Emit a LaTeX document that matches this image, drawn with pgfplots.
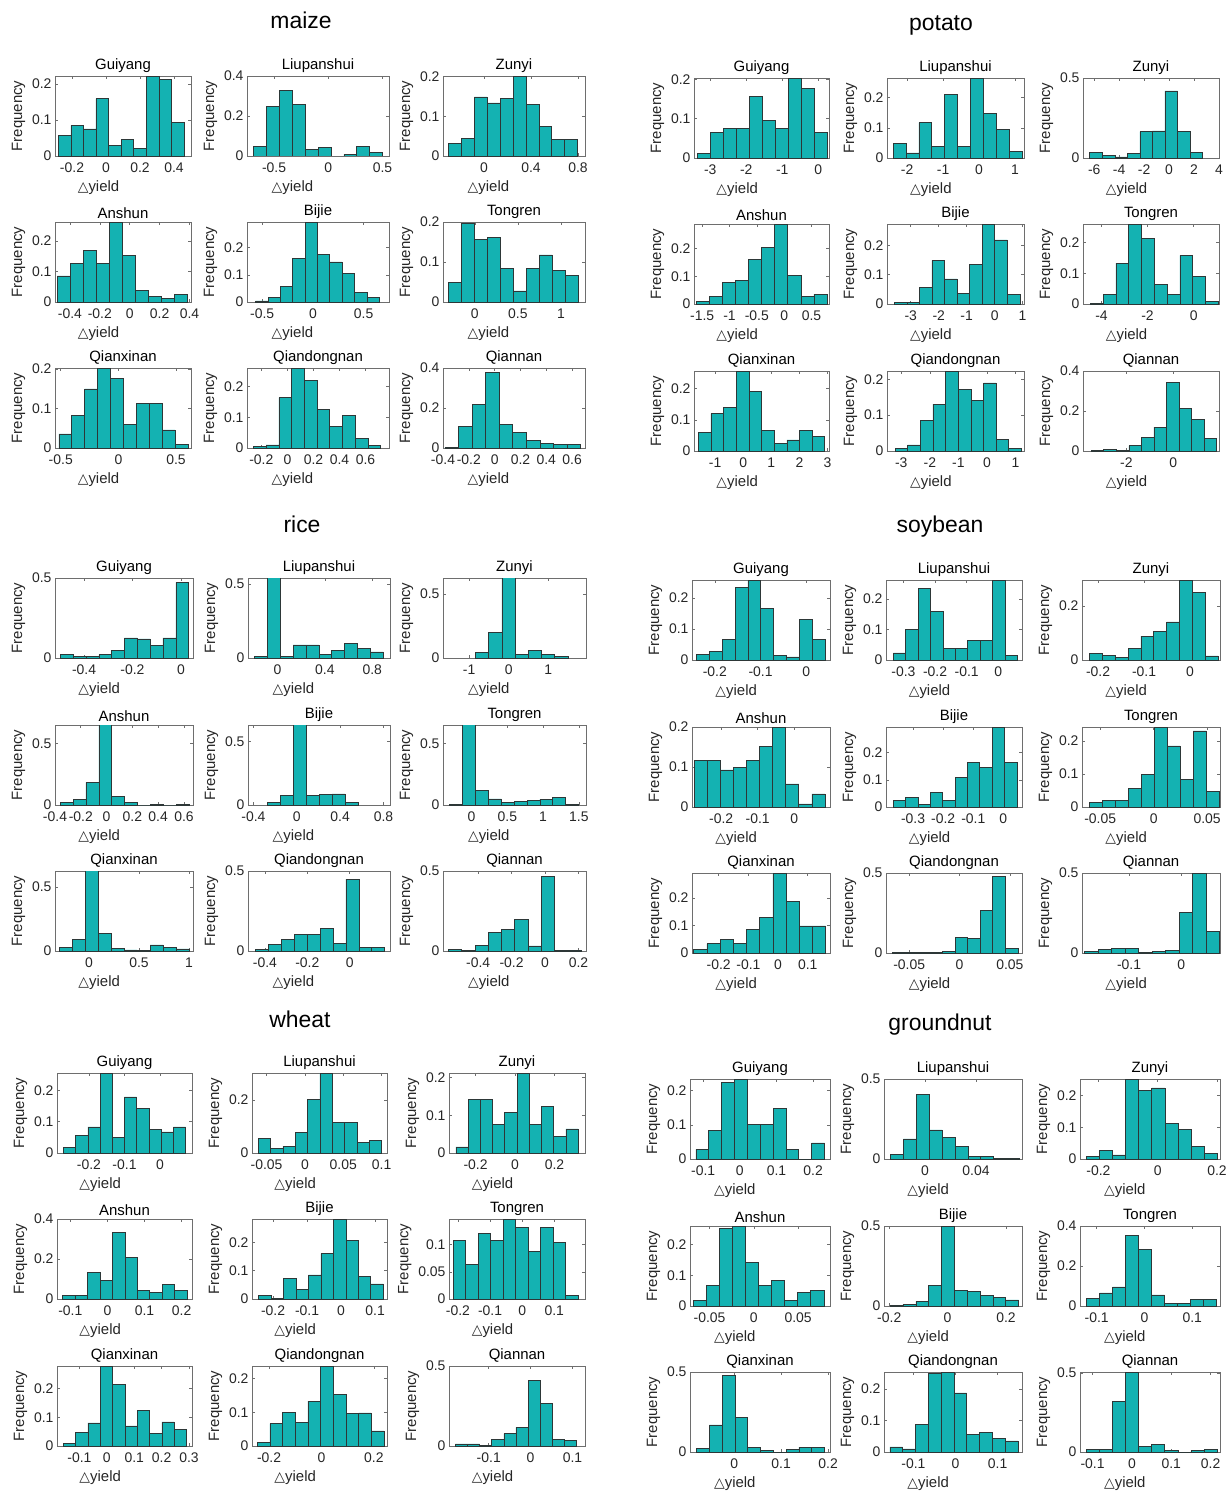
\documentclass[border=0pt]{standalone}
\usepackage{fontspec}
\setmainfont{Liberation Sans}
\newfontfamily\dejavu{DejaVu Sans}
\usepackage{pgfplots}
\pgfplotsset{compat=1.18}
\definecolor{barfill}{RGB}{20,178,178}
\definecolor{baredge}{RGB}{45,55,55}
\definecolor{boxgray}{RGB}{110,110,110}
\newcommand\fs[1]{\fontsize{#1}{#1}\selectfont}

\pgfplotsset{
  hist/.style={
    scale only axis, anchor=north west, height=80bp,
    enlargelimits=false, ymin=0, clip=true,
    axis line style={draw=boxgray, line width=0.8bp},
    tick style={draw=boxgray, line width=0.6bp},
    tick align=inside, major tick length=3bp,
    scaled ticks=false,
    /pgf/number format/assume math mode=true,
    /pgf/number format/fixed,
    ticklabel style={font=\fs{14}, text=black!85},
    xticklabel style={yshift=-3bp},
    title style={at={(0.5,1)}, anchor=south, inner sep=1.5bp, yshift=-4bp, font=\fs{15}},
    ylabel={Frequency},
    ylabel style={font=\fs{15}, text=black!85},
    xlabel={{\dejavu\fs{14}△}yield},
    xlabel style={at={(axis description cs:0.32,0)}, anchor=north, yshift=-21bp, font=\fs{15}, text=black!85},
  },
  bars/.style={ybar interval, fill=barfill, draw=baredge, line width=0.6bp},
}

% #1 left, #2 top, #3 width, #4 title, #5 options, #6 first edge, #7 bin width, #8 heights
\newcommand{\hist}[8]{%
  \begin{axis}[hist, at={(#1bp,-#2bp)}, width=#3bp, title={#4}, #5]
    \addplot[bars] table[x expr={#6+\coordindex*#7}, y index=0, header=false, row sep=\\] {#8};
  \end{axis}}

\begin{document}
\begin{tikzpicture}
\useasboundingbox (0,0) rectangle (1232bp,-1492bp);

% ---------------- maize ----------------
\node[font=\fs{23}] at (301bp,-20bp) {maize};
\hist{55}{76}{136}{Guiyang}{xmin=-0.3,xmax=0.5,ymax=0.222,xtick={-0.2,0,0.2,0.4},ytick={0,0.1,0.2}}{-0.281}{0.074}
  {0.057\\0.085\\0.075\\0.159\\0.030\\0.047\\0.020\\0.222\\0.213\\0.094\\0\\}
\hist{247}{76}{142}{Liupanshui}{xmin=-0.75,xmax=0.56,ymax=0.4,xtick={-0.5,0,0.5},ytick={0,0.2,0.4}}{-0.69}{0.119}
  {0.047\\0.247\\0.329\\0.259\\0.034\\0.043\\0\\0.008\\0.049\\0.019\\0\\}
\hist{443}{76}{142}{Zunyi}{xmin=-0.35,xmax=0.86,ymax=0.202,xtick={0,0.4,0.8},ytick={0,0.1,0.2}}{-0.303}{0.11}
  {0.032\\0.045\\0.149\\0.134\\0.146\\0.202\\0.130\\0.074\\0.042\\0.042\\0\\}
\hist{55}{222}{136}{Anshun}{xmin=-0.5,xmax=0.41,ymax=0.263,xtick={-0.4,-0.2,0,0.2,0.4},ytick={0,0.1,0.2}}{-0.485}{0.087}
  {0.086\\0.128\\0.170\\0.128\\0.263\\0.154\\0.037\\0.018\\0.011\\0.026\\0\\}
\hist{247}{222}{142}{Bijie}{xmin=-0.65,xmax=0.75,ymax=0.295,xtick={-0.5,0,0.5},ytick={0,0.1,0.2}}{-0.564}{0.1217}
  {0.004\\0.016\\0.057\\0.160\\0.295\\0.176\\0.148\\0.105\\0.034\\0.016\\0\\}
\hist{443}{222}{142}{Tongren}{xmin=-0.37,xmax=1.28,ymax=0.2,xtick={0,0.5,1},ytick={0,0.1,0.2}}{-0.307}{0.1507}
  {0.049\\0.197\\0.157\\0.161\\0.084\\0.028\\0.084\\0.118\\0.080\\0.066\\0\\}
\hist{55}{368}{136}{Qianxinan}{xmin=-0.55,xmax=0.63,ymax=0.203,xtick={-0.5,0,0.5},ytick={0,0.1,0.2}}{-0.517}{0.112}
  {0.036\\0.082\\0.150\\0.203\\0.177\\0.060\\0.114\\0.114\\0.046\\0.009\\0\\}
\hist{247}{368}{142}{Qiandongnan}{xmin=-0.31,xmax=0.78,ymax=0.26,xtick={-0.2,0,0.2,0.4,0.6},ytick={0,0.1,0.2}}{-0.261}{0.0977}
  {0.004\\0.010\\0.164\\0.260\\0.219\\0.126\\0.070\\0.105\\0.032\\0.009\\0\\}
\hist{443}{368}{142}{Qiannan}{xmin=-0.4,xmax=0.7,ymax=0.4,xtick={-0.4,-0.2,0,0.2,0.4,0.6},ytick={0,0.2,0.4}}{-0.385}{0.105}
  {0.003\\0.108\\0.220\\0.380\\0.117\\0.080\\0.037\\0.025\\0.017\\0.017\\0\\}

% ---------------- potato ----------------
\node[font=\fs{23}] at (941bp,-25bp) {potato};
\hist{694}{78}{135}{Guiyang}{xmin=-3.45,xmax=0.3,ymax=0.204,xtick={-3,-2,-1,0},ytick={0,0.1,0.2}}{-3.36}{0.361}
  {0.012\\0.066\\0.076\\0.076\\0.158\\0.095\\0.076\\0.204\\0.177\\0.066\\0\\}
\hist{887}{78}{137}{Liupanshui}{xmin=-2.56,xmax=1.25,ymax=0.265,xtick={-2,-1,0,1},ytick={0,0.1,0.2}}{-2.39}{0.358}
  {0.048\\0.017\\0.117\\0.039\\0.210\\0.039\\0.265\\0.149\\0.094\\0.023\\0\\}
\hist{1083}{78}{136}{Zunyi}{xmin=-6.9,xmax=4,ymax=0.5,xtick={-6,-4,-2,0,2,4},ytick={0,0.5}}{-6.36}{1.005}
  {0.033\\0.017\\0.007\\0.028\\0.165\\0.170\\0.420\\0.165\\0.035\\0\\}
\hist{694}{224}{135}{Anshun}{xmin=-1.65,xmax=0.82,ymax=0.288,xtick={-1.5,-1,-0.5,0,0.5},ytick={0,0.1,0.2}}{-1.6}{0.238}
  {0.008\\0.027\\0.077\\0.086\\0.162\\0.205\\0.288\\0.104\\0.027\\0.036\\0\\}
\hist{887}{224}{137}{Bijie}{xmin=-3.85,xmax=1.05,ymax=0.273,xtick={-3,-2,-1,0,1},ytick={0,0.1,0.2}}{-3.59}{0.449}
  {0.005\\0.005\\0.057\\0.149\\0.086\\0.036\\0.136\\0.273\\0.219\\0.034\\0\\}
\hist{1083}{224}{136}{Tongren}{xmin=-4.8,xmax=1.1,ymax=0.26,xtick={-4,-2,0},ytick={0,0.1,0.2}}{-4.48}{0.555}
  {0.003\\0.030\\0.133\\0.260\\0.214\\0.063\\0.032\\0.158\\0.090\\0.008\\0\\}
\hist{694}{371}{135}{Qianxinan}{xmin=-1.75,xmax=3.05,ymax=0.257,xtick={-1,0,1,2,3},ytick={0,0.1,0.2}}{-1.6}{0.45}
  {0.060\\0.120\\0.140\\0.257\\0.192\\0.066\\0.025\\0.036\\0.065\\0.047\\0\\}
\hist{887}{371}{137}{Qiandongnan}{xmin=-3.5,xmax=1.3,ymax=0.223,xtick={-3,-2,-1,0,1},ytick={0,0.1,0.2}}{-3.22}{0.443}
  {0.008\\0.017\\0.085\\0.131\\0.223\\0.172\\0.142\\0.190\\0.033\\0.008\\0\\}
\hist{1083}{371}{136}{Qiannan}{xmin=-3.85,xmax=1.95,ymax=0.4,xtick={-2,0,2},ytick={0,0.2,0.4}}{-3.5}{0.535}
  {0.003\\0.008\\0.005\\0.027\\0.068\\0.120\\0.344\\0.214\\0.158\\0.064\\0\\}

% ---------------- rice ----------------
\node[font=\fs{23}] at (302bp,-524bp) {rice};
\hist{55}{578}{138}{Guiyang}{xmin=-0.52,xmax=0.05,ymax=0.5,xtick={-0.4,-0.2,0},ytick={0,0.5}}{-0.498}{0.053}
  {0.021\\0.008\\0.008\\0.021\\0.050\\0.126\\0.120\\0.078\\0.126\\0.473\\0\\}
\hist{248}{578}{142}{Liupanshui}{xmin=-0.25,xmax=0.95,ymax=0.54,xtick={0,0.4,0.8},ytick={0,0.5}}{-0.196}{0.109}
  {0.011\\0.600\\0.011\\0.089\\0.089\\0.027\\0.050\\0.098\\0.066\\0.041\\0\\}
\hist{443}{578}{143}{Zunyi}{xmin=-1.66,xmax=1.95,ymax=0.625,xtick={-1,0,1},ytick={0,0.5}}{-0.84}{0.333}
  {0.044\\0.203\\0.700\\0.026\\0.057\\0.029\\0.010\\0\\}
\hist{55}{725}{138}{Anshun}{xmin=-0.4,xmax=0.67,ymax=0.65,xtick={-0.4,-0.2,0,0.2,0.4,0.6},ytick={0,0.5}}{-0.36}{0.1}
  {0.019\\0.046\\0.184\\0.700\\0.068\\0.022\\0\\0.005\\0\\0.005\\0\\}
\hist{248}{725}{142}{Bijie}{xmin=-0.45,xmax=0.86,ymax=0.63,xtick={-0.4,0,0.4,0.8},ytick={0,0.5}}{-0.274}{0.12}
  {0.021\\0.076\\0.700\\0.074\\0.082\\0.087\\0.021\\0\\}
\hist{443}{725}{143}{Tongren}{xmin=-0.4,xmax=1.6,ymax=0.65,xtick={0,0.5,1,1.5},ytick={0,0.5}}{-0.305}{0.18}
  {0.005\\0.700\\0.120\\0.050\\0.021\\0.032\\0.037\\0.048\\0.061\\0.005\\0\\}
\hist{55}{871}{138}{Qianxinan}{xmin=-0.34,xmax=1.04,ymax=0.625,xtick={0,0.5,1},ytick={0,0.5}}{-0.3}{0.13}
  {0.026\\0.090\\0.700\\0.135\\0.021\\0.008\\0.005\\0.047\\0.026\\0.016\\0\\}
\hist{248}{871}{142}{Qiandongnan}{xmin=-0.48,xmax=0.19,ymax=0.5,xtick={-0.4,-0.2,0},ytick={0,0.5}}{-0.445}{0.061}
  {0.008\\0.042\\0.074\\0.105\\0.105\\0.143\\0.049\\0.449\\0.025\\0.021\\0\\}
\hist{443}{871}{143}{Qiannan}{xmin=-0.61,xmax=0.245,ymax=0.5,xtick={-0.4,-0.2,0,0.2},ytick={0,0.5}}{-0.577}{0.0792}
  {0.008\\0.004\\0.036\\0.116\\0.137\\0.196\\0.032\\0.464\\0.004\\0.004\\0\\}

% ---------------- soybean ----------------
\node[font=\fs{23}] at (940bp,-527bp) {soybean};
\hist{692}{580}{138}{Guiyang}{xmin=-0.25,xmax=0.052,ymax=0.258,xtick={-0.2,-0.1,0},ytick={0,0.1,0.2}}{-0.24}{0.0281}
  {0.019\\0.027\\0.066\\0.233\\0.258\\0.167\\0.016\\0.010\\0.131\\0.066\\0\\}
\hist{886}{580}{136}{Liupanshui}{xmin=-0.355,xmax=0.075,ymax=0.262,xtick={-0.3,-0.2,-0.1,0},ytick={0,0.1,0.2}}{-0.332}{0.0392}
  {0.023\\0.100\\0.235\\0.159\\0.039\\0.039\\0.063\\0.063\\0.262\\0.015\\0\\}
\hist{1082}{580}{138}{Zunyi}{xmin=-0.235,xmax=0.065,ymax=0.296,xtick={-0.2,-0.1,0},ytick={0,0.2}}{-0.219}{0.028}
  {0.025\\0.016\\0.011\\0.042\\0.088\\0.107\\0.141\\0.296\\0.249\\0.015\\0\\}
\hist{692}{727}{138}{Anshun}{xmin=-0.28,xmax=0.098,ymax=0.2,xtick={-0.2,-0.1,0},ytick={0,0.1,0.2}}{-0.274}{0.0358}
  {0.117\\0.117\\0.093\\0.100\\0.117\\0.152\\0.200\\0.058\\0.008\\0.033\\0\\}
\hist{886}{727}{136}{Bijie}{xmin=-0.39,xmax=0.062,ymax=0.294,xtick={-0.3,-0.2,-0.1,0},ytick={0,0.1,0.2}}{-0.366}{0.0411}
  {0.023\\0.036\\0.009\\0.053\\0.025\\0.108\\0.163\\0.145\\0.294\\0.163\\0\\}
\hist{1082}{727}{138}{Tongren}{xmin=-0.067,xmax=0.062,ymax=0.242,xtick={-0.05,0,0.05},ytick={0,0.1,0.2}}{-0.06}{0.0121}
  {0.013\\0.020\\0.020\\0.056\\0.099\\0.242\\0.185\\0.083\\0.230\\0.047\\0\\}
\hist{692}{873}{138}{Qianxinan}{xmin=-0.29,xmax=0.175,ymax=0.29,xtick={-0.2,-0.1,0,0.1},ytick={0,0.1,0.2}}{-0.284}{0.0444}
  {0.012\\0.034\\0.048\\0.034\\0.087\\0.129\\0.290\\0.186\\0.098\\0.098\\0\\}
\hist{886}{873}{136}{Qiandongnan}{xmin=-0.073,xmax=0.062,ymax=0.5,xtick={-0.05,0,0.05},ytick={0,0.5}}{-0.067}{0.0125}
  {0.002\\0.004\\0.006\\0.006\\0.012\\0.098\\0.090\\0.267\\0.480\\0.029\\0\\}
\hist{1082}{873}{138}{Qiannan}{xmin=-0.19,xmax=0.074,ymax=0.5,xtick={-0.1,0},ytick={0,0.5}}{-0.185}{0.0258}
  {0.010\\0.025\\0.031\\0.031\\0.006\\0.008\\0.015\\0.254\\0.500\\0.135\\0\\}

% ---------------- wheat ----------------
\node[font=\fs{23}] at (300bp,-1019bp) {wheat};
\hist{57}{1073}{135}{Guiyang}{xmin=-0.29,xmax=0.09,ymax=0.255,xtick={-0.2,-0.1,0},ytick={0,0.1,0.2}}{-0.272}{0.0344}
  {0.019\\0.056\\0.083\\0.255\\0.049\\0.179\\0.141\\0.076\\0.067\\0.083\\0\\}
\hist{252}{1073}{135}{Liupanshui}{xmin=-0.069,xmax=0.107,ymax=0.302,xtick={-0.05,0,0.05,0.1},ytick={0,0.2}}{-0.061}{0.0161}
  {0.056\\0.018\\0.025\\0.078\\0.203\\0.302\\0.115\\0.115\\0.040\\0.048\\0\\}
\hist{449}{1073}{136}{Zunyi}{xmin=-0.335,xmax=0.355,ymax=0.212,xtick={-0.2,0,0.2},ytick={0,0.1,0.2}}{-0.3}{0.062}
  {0.016\\0.142\\0.142\\0.075\\0.107\\0.212\\0.075\\0.123\\0.044\\0.064\\0\\}
\hist{57}{1219}{135}{Anshun}{xmin=-0.136,xmax=0.228,ymax=0.4,xtick={-0.1,0,0.1,0.2},ytick={0,0.2,0.4}}{-0.121}{0.0336}
  {0.017\\0.017\\0.135\\0.092\\0.335\\0.210\\0.042\\0.033\\0.075\\0.042\\0\\}
\hist{252}{1219}{135}{Bijie}{xmin=-0.262,xmax=0.135,ymax=0.282,xtick={-0.2,-0.1,0,0.1},ytick={0,0.1,0.2}}{-0.243}{0.0367}
  {0.014\\0.002\\0.072\\0.035\\0.085\\0.160\\0.282\\0.207\\0.080\\0.053\\0\\}
\hist{449}{1219}{136}{Tongren}{xmin=-0.228,xmax=0.196,ymax=0.147,xtick={-0.2,-0.1,0,0.1},ytick={0,0.05,0.1}}{-0.215}{0.039}
  {0.108\\0.064\\0.121\\0.108\\0.147\\0.131\\0.087\\0.131\\0.104\\0.007\\0\\}
\hist{57}{1366}{135}{Qianxinan}{xmin=-0.182,xmax=0.311,ymax=0.278,xtick={-0.1,0,0.1,0.2,0.3},ytick={0,0.1,0.2}}{-0.159}{0.045}
  {0.010\\0.047\\0.080\\0.278\\0.214\\0.070\\0.124\\0.043\\0.084\\0.057\\0\\}
\hist{252}{1366}{135}{Qiandongnan}{xmin=-0.265,xmax=0.25,ymax=0.237,xtick={-0.2,0,0.2},ytick={0,0.1,0.2}}{-0.245}{0.0483}
  {0.010\\0.066\\0.099\\0.069\\0.133\\0.237\\0.153\\0.096\\0.098\\0.045\\0\\}
\hist{449}{1366}{136}{Qiannan}{xmin=-0.195,xmax=0.13,ymax=0.5,xtick={-0.1,0,0.1},ytick={0,0.5}}{-0.18}{0.029}
  {0.013\\0.013\\0.004\\0.042\\0.078\\0.116\\0.411\\0.268\\0.042\\0.034\\0\\}

% ---------------- groundnut ----------------
\node[font=\fs{23}] at (940bp,-1025bp) {groundnut};
\hist{690}{1079}{140}{Guiyang}{xmin=-0.136,xmax=0.246,ymax=0.234,xtick={-0.1,0,0.1,0.2},ytick={0,0.1,0.2}}{-0.12}{0.0351}
  {0.028\\0.083\\0.224\\0.234\\0.102\\0.102\\0.148\\0.028\\0\\0.047\\0\\}
\hist{884}{1079}{138}{Liupanshui}{xmin=-0.032,xmax=0.076,ymax=0.5,xtick={0,0.04},ytick={0,0.5}}{-0.027}{0.0101}
  {0.029\\0.126\\0.406\\0.182\\0.134\\0.077\\0.015\\0.015\\0.006\\0.006\\0\\}
\hist{1080}{1079}{140}{Zunyi}{xmin=-0.262,xmax=0.21,ymax=0.253,xtick={-0.2,0,0.2},ytick={0,0.1,0.2}}{-0.24}{0.044}
  {0.007\\0.026\\0.013\\0.253\\0.218\\0.225\\0.113\\0.094\\0.039\\0.017\\0\\}
\hist{690}{1226}{140}{Anshun}{xmin=-0.072,xmax=0.086,ymax=0.261,xtick={-0.05,0,0.05},ytick={0,0.1,0.2}}{-0.068}{0.0147}
  {0.019\\0.068\\0.252\\0.261\\0.143\\0.068\\0.084\\0.019\\0.044\\0.052\\0\\}
\hist{884}{1226}{138}{Bijie}{xmin=-0.218,xmax=0.255,ymax=0.5,xtick={-0.2,0,0.2},ytick={0,0.5}}{-0.197}{0.044}
  {0.006\\0.010\\0.029\\0.131\\0.500\\0.100\\0.092\\0.067\\0.054\\0.038\\0\\}
\hist{1080}{1226}{140}{Tongren}{xmin=-0.135,xmax=0.158,ymax=0.4,xtick={-0.1,0,0.1},ytick={0,0.2,0.4}}{-0.121}{0.0272}
  {0.037\\0.066\\0.096\\0.354\\0.282\\0.056\\0.015\\0.012\\0.033\\0.033\\0\\}
\hist{690}{1372}{140}{Qianxinan}{xmin=-0.094,xmax=0.204,ymax=0.5,xtick={0,0.1,0.2},ytick={0,0.5}}{-0.08}{0.0272}
  {0.021\\0.169\\0.481\\0.217\\0.027\\0.008\\0\\0.015\\0.030\\0.030\\0\\}
\hist{884}{1372}{138}{Qiandongnan}{xmin=-0.17,xmax=0.158,ymax=0.254,xtick={-0.1,0,0.1},ytick={0,0.1,0.2}}{-0.156}{0.0304}
  {0.016\\0.010\\0.087\\0.249\\0.254\\0.188\\0.055\\0.063\\0.042\\0.035\\0\\}
\hist{1080}{1372}{140}{Qiannan}{xmin=-0.132,xmax=0.224,ymax=0.506,xtick={-0.1,0,0.1,0.2},ytick={0,0.5}}{-0.115}{0.0331}
  {0.015\\0.017\\0.321\\0.506\\0.036\\0.049\\0.008\\0\\0.008\\0.015\\0\\}

\end{tikzpicture}
\end{document}
